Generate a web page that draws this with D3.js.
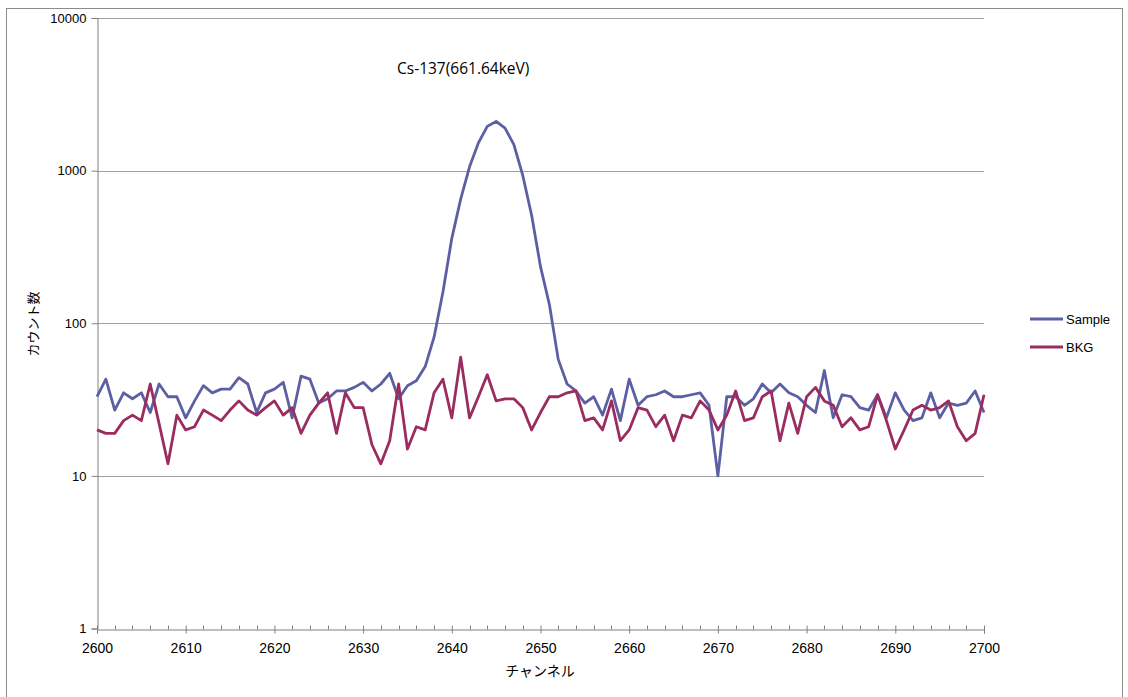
<!DOCTYPE html>
<html>
<head>
<meta charset="utf-8">
<script src="https://cdn.jsdelivr.net/npm/d3@7"></script>
<style>
  html, body { margin: 0; padding: 0; background: #fff; }
  svg { display: block; }
</style>
</head>
<body>
<svg id="chart" width="1128" height="697"></svg>
<script>
// Gamma-ray spectrum around the Cs-137 photopeak: counts per channel (log scale)
const channels = d3.range(2600, 2701);

const sampleCounts = [
  33, 43, 27, 35, 32, 35, 26, 40, 33, 33,
  24, 31, 39, 35, 37, 37, 44, 40, 26, 35,
  37, 41, 24, 45, 43, 30, 32, 36, 36, 38,
  41, 36, 40, 47, 32, 39, 42, 52, 81, 160,
  360, 650, 1060, 1520, 1950, 2100, 1900, 1480, 930, 510,
  235, 133, 58, 40, 36, 30, 33, 25, 37, 23,
  43, 29, 33, 34, 36, 33, 33, 34, 35, 29,
  10, 33, 33, 29, 32, 40, 35, 40, 35, 33,
  29, 26, 49, 24, 34, 33, 28, 27, 34, 24,
  35, 27, 23, 24, 35, 24, 30, 29, 30, 36,
  26
];

const bkgCounts = [
  20, 19, 19, 23, 25, 23, 40, 22, 12, 25,
  20, 21, 27, 25, 23, 27, 31, 27, 25, 28,
  31, 25, 28, 19, 25, 30, 35, 19, 35, 28,
  28, 16, 12, 17, 40, 15, 21, 20, 35, 43,
  24, 60, 24, 33, 46, 31, 32, 32, 28, 20,
  26, 33, 33, 35, 36, 23, 24, 20, 31, 17,
  20, 28, 27, 21, 25, 17, 25, 24, 31, 27,
  20, 25, 36, 23, 24, 33, 36, 17, 30, 19,
  33, 38, 31, 29, 21, 24, 20, 21, 34, 23,
  15, 20, 27, 29, 27, 28, 31, 21, 17, 19,
  34
];

const seriesNames = ["Sample", "BKG"];
const seriesColors = ["#5d5fa3", "#9b2c5f"];
const yTickValues = [1, 10, 100, 1000, 10000];
const xTickValues = d3.range(2600, 2701, 10);
const xMinorValues = d3.range(2600, 2701, 2);
const peakLabel = "Cs-137(661.64keV)";
const xTitle = "チャンネル";
const yTitle = "カウント数";

const svg = d3.select("#chart");
const margin = { left: 97, right: 984, top: 18, bottom: 628.5 };

const x = d3.scaleLinear().domain([2600, 2700]).range([margin.left, margin.right]);
const y = d3.scaleLog().domain([1, 10000]).range([margin.bottom, margin.top]);

const numFont = "'Liberation Sans', Arial, sans-serif";
const jpFont = "'Noto Sans CJK JP', sans-serif";

// outer chart frame
svg.append("rect")
  .attr("x", 6.5).attr("y", 8.5)
  .attr("width", 1116).attr("height", 700)
  .attr("fill", "none").attr("stroke", "#8c8c8c").attr("stroke-width", 1);

// horizontal gridlines at each decade
svg.append("g")
  .selectAll("line")
  .data(yTickValues.slice(1))
  .join("line")
  .attr("x1", margin.left).attr("x2", margin.right)
  .attr("y1", d => Math.round(y(d)) + 0.5).attr("y2", d => Math.round(y(d)) + 0.5)
  .attr("stroke", "#a0a0a0").attr("stroke-width", 1);

// y axis
const yAxis = svg.append("g")
  .attr("transform", `translate(${margin.left + 0.5},0)`)
  .call(d3.axisLeft(y).tickValues(yTickValues).tickFormat(d3.format("d")).tickSize(6).tickPadding(5));
yAxis.select(".domain").attr("stroke", "#808080");
yAxis.selectAll(".tick line").attr("stroke", "#808080");
yAxis.selectAll(".tick text")
  .attr("font-family", numFont).attr("font-size", 13).attr("fill", "#000");

// x axis: major ticks cross the axis, minor ticks point into the plot
const xAxisY = Math.round(margin.bottom) + 0.5;
const xAxis = svg.append("g")
  .attr("transform", `translate(0,${xAxisY})`)
  .call(d3.axisBottom(x).tickValues(xTickValues).tickFormat(d3.format("d")).tickSize(4).tickPadding(10));
xAxis.select(".domain").attr("stroke", "#808080");
xAxis.selectAll(".tick line").attr("stroke", "#808080").attr("y1", -4).attr("y2", 4);
xAxis.selectAll(".tick text")
  .attr("font-family", numFont).attr("font-size", 14).attr("fill", "#000");

svg.append("g")
  .selectAll("line")
  .data(xMinorValues.filter(d => (d - 2600) % 10 !== 0))
  .join("line")
  .attr("x1", d => Math.round(x(d)) + 0.5).attr("x2", d => Math.round(x(d)) + 0.5)
  .attr("y1", xAxisY - 4).attr("y2", xAxisY)
  .attr("stroke", "#808080");

// data lines, Sample first so BKG sits on top
const line = d3.line()
  .x((d, i) => x(channels[i]))
  .y(d => y(d));

[sampleCounts, bkgCounts].forEach((vals, i) => {
  svg.append("path")
    .datum(vals)
    .attr("d", line)
    .attr("fill", "none")
    .attr("stroke", seriesColors[i])
    .attr("stroke-width", 2.8)
    .attr("stroke-linejoin", "round");
});

// peak annotation
svg.append("text")
  .attr("x", 397).attr("y", 74)
  .attr("font-family", "'Open Sans', sans-serif").attr("font-size", 15.5)
  .attr("fill", "#000")
  .text(peakLabel);

// axis titles
svg.append("text")
  .attr("x", 540).attr("y", 676)
  .attr("text-anchor", "middle")
  .attr("font-family", jpFont).attr("font-size", 14)
  .attr("fill", "#000")
  .text(xTitle);

svg.append("text")
  .attr("transform", "translate(38,324) rotate(-90)")
  .attr("text-anchor", "middle")
  .attr("font-family", jpFont).attr("font-size", 13)
  .attr("fill", "#000")
  .text(yTitle);

// legend
const legend = svg.append("g");
seriesNames.forEach((name, i) => {
  const ly = 319 + i * 28;
  legend.append("line")
    .attr("x1", 1030).attr("x2", 1063)
    .attr("y1", ly).attr("y2", ly)
    .attr("stroke", seriesColors[i]).attr("stroke-width", 3);
  legend.append("text")
    .attr("x", 1066).attr("y", ly + 5)
    .attr("font-family", numFont).attr("font-size", 13)
    .attr("fill", "#000")
    .text(name);
});
</script>
</body>
</html>
